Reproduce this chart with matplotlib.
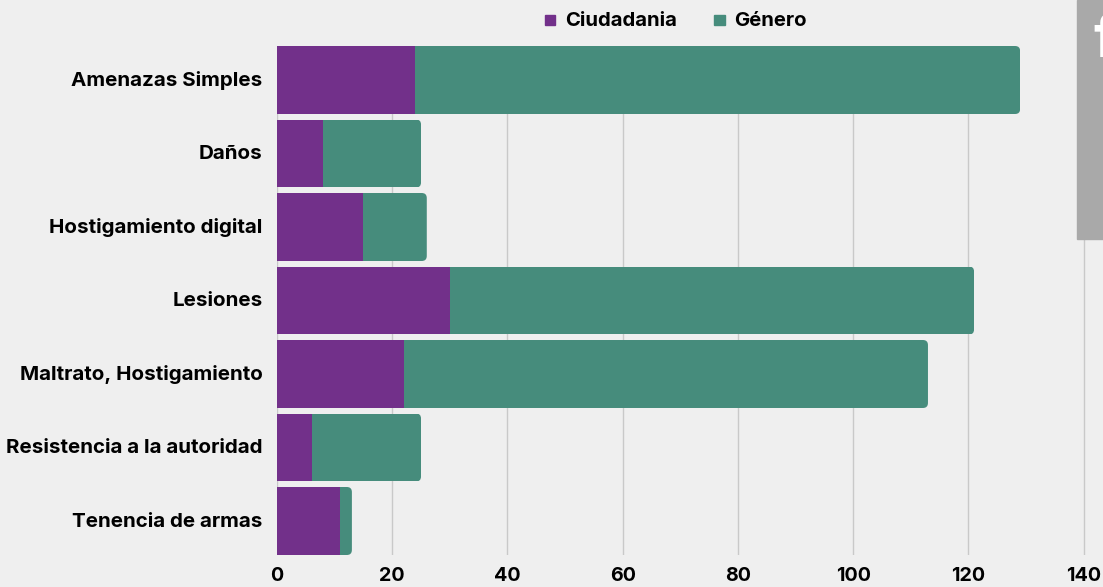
import matplotlib
matplotlib.use("Agg")
import matplotlib.pyplot as plt
from matplotlib.patches import FancyBboxPatch, Rectangle
from matplotlib.transforms import IdentityTransform, ScaledTranslation

categories = ["Amenazas Simples", "Daños", "Hostigamiento digital", "Lesiones",
              "Maltrato, Hostigamiento", "Resistencia a la autoridad", "Tenencia de armas"]
ciudadania = [24, 8, 15, 30, 22, 6, 11]
genero = [105, 17, 11, 91, 91, 19, 2]
xticks = [0, 20, 40, 60, 80, 100, 120, 140]

plt.rcParams['font.family'] = ['Inter', 'DejaVu Sans']
W, H = 1103, 587
BG = '#efefef'
PURPLE = '#72308a'
GREEN = '#468c7c'
fig = plt.figure(figsize=(W/100, H/100), dpi=100, facecolor=BG)
L, R, T, B = 277.0, 1086.0, 46.0, 555.0
ax = fig.add_axes([L/W, 1-B/H, (R-L)/W, (B-T)/H], facecolor='none')
scale = (1083.5-277)/140
ax.set_xlim(0, (R-L)/scale)
ax.set_ylim(6.4626, -0.4626)
for s in ax.spines.values():
    s.set_visible(False)
ax.set_xticks(xticks)
ax.grid(axis='x', color='#c9c9c9', lw=1.0, zorder=0)
ax.set_axisbelow(True)
ypos = list(range(len(categories)))
ax.barh(ypos, ciudadania, height=0.925, color=PURPLE, zorder=2)
g = ax.barh(ypos, genero, left=ciudadania, height=0.925, color=GREEN, zorder=2)
# rounded right-hand ends
for rect in g:
    (x0, y0), (x1, y1) = ax.transData.transform([(rect.get_x(), rect.get_y()),
                                                 (rect.get_x()+rect.get_width(), rect.get_y()+rect.get_height())])
    lo, hi = min(y0, y1), max(y0, y1)
    clip = FancyBboxPatch((x0-30, lo), x1-x0+30, hi-lo, boxstyle="round,pad=0,rounding_size=5",
                          transform=IdentityTransform())
    rect.set_clip_path(clip)
ax.set_yticks(ypos)
ax.set_yticklabels(categories, fontsize=14.8, fontweight='bold', color='#000000')
ax.tick_params(axis='y', length=0, pad=10.5)
ax.tick_params(axis='x', length=0, pad=8.5, labelsize=14.2, labelcolor='#000000')
for t in ax.get_xticklabels():
    t.set_fontweight('bold')
shift = ScaledTranslation(0, 1.3/100, fig.dpi_scale_trans)
for t in ax.get_yticklabels():
    t.set_transform(t.get_transform() + shift)

# legend
fig.patches.append(Rectangle((544.5/W, 1-25/H), 10.5/W, 10.5/H, transform=fig.transFigure, color=PURPLE))
fig.patches.append(Rectangle((714/W, 1-25/H), 10.5/W, 10.5/H, transform=fig.transFigure, color=GREEN))
fig.text(565/W, 1-21.5/H, "Ciudadania", fontsize=14.6, fontweight='bold', va='center', ha='left', color='#000000')
fig.text(734/W, 1-21.5/H, "Género", fontsize=14.6, fontweight='bold', va='center', ha='left', color='#000000')

# grey side panel
fig.patches.append(Rectangle((1077/W, 1-239/H), 26/W, 239/H, transform=fig.transFigure, color='#a9a9a9', zorder=5))
fig.text(1093/W, 1-57/H, "f", fontsize=42, fontweight='bold', color='white', ha='left', va='baseline', zorder=6)
fig.savefig("out.png", dpi=100, facecolor=BG)
